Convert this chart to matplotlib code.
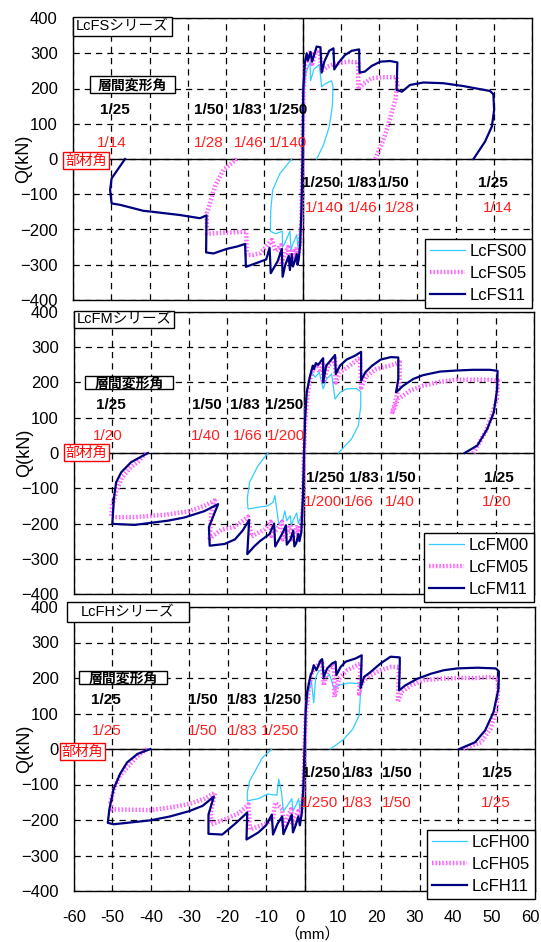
import matplotlib
matplotlib.use('Agg')
import matplotlib.pyplot as plt
import matplotlib.patheffects as pe
import matplotlib.transforms as mtransforms
from matplotlib.patches import Rectangle

plt.rcParams['font.family'] = ['Liberation Sans', 'Noto Sans CJK JP', 'DejaVu Sans']

# axis ticks
xticks = list(range(-60, 61, 10))
yticks = list(range(-400, 401, 100))

# ---- LcFS series : (deformation mm, Q kN), from origin outwards ----
fs00_pos = [(0, 0), (0.3, 180), (0.8, 240), (1.5, 262), (2.0, 275), (2.1, 222), (3.0, 255), (4.4, 268),
            (5.0, 205), (6.0, 214), (7.6, 222), (8.0, 205), (7.8, 150), (7.0, 92), (5.5, 40), (3.7, 0)]
fs00_neg = [(0, 0), (-0.3, -160), (-0.8, -222), (-1.2, -250), (-1.5, -215), (-2.5, -240), (-3.0, -258),
            (-3.3, -205), (-4.5, -236), (-5.2, -250), (-5.3, -205), (-7.0, -212), (-8.4, -205),
            (-8.3, -145), (-7.8, -88), (-5.9, -41), (-2.8, 0)]
fs05_pos = [(0, 0), (0.3, 200), (0.8, 268), (1.5, 290), (2.1, 306), (2.5, 270), (3.3, 298), (4.0, 310),
            (4.6, 295), (5.0, 250), (6.5, 262), (8.0, 268), (10.0, 273), (12.0, 276), (14.6, 274),
            (14.6, 198), (16.0, 214), (18.0, 229), (21.0, 232), (24.6, 232), (24.8, 210), (24.3, 170),
            (22.5, 100), (21.0, 50), (19.0, 0)]
fs05_neg = [(0, 0), (-0.3, -180), (-0.7, -248), (-1.2, -275), (-1.5, -250), (-2.2, -285), (-2.6, -255),
            (-3.5, -290), (-3.8, -250), (-5.0, -280), (-5.5, -300), (-5.7, -245), (-7.0, -262),
            (-8.0, -230), (-11.0, -267), (-12.9, -272), (-14.6, -272), (-14.7, -206), (-18.0, -208),
            (-22.0, -210), (-25.0, -212), (-25.0, -154), (-24.2, -126), (-22.9, -78), (-20.7, -31),
            (-17.2, 0)]
fs11_pos = [(0, 0), (0.2, 196), (0.65, 276), (1.1, 300), (1.4, 279), (2.1, 304), (2.5, 276), (3.7, 319),
            (4.7, 317), (5.0, 245), (5.7, 276), (7.0, 307), (8.1, 314), (8.3, 254), (9.4, 273),
            (11.1, 295), (12.9, 307), (14.8, 311), (14.9, 245), (16.3, 248), (18.1, 264), (20.3, 276),
            (22.9, 278), (24.8, 274), (24.6, 196), (26.0, 191), (28.1, 210), (31.6, 217), (36.8, 215),
            (42.0, 207), (45.5, 200), (49.0, 193), (49.9, 184), (50.1, 139), (49.5, 92), (47.7, 49),
            (44.7, 0)]
fs11_neg = [(0, 0), (-0.3, -150), (-0.6, -240), (-1.0, -285), (-1.3, -300), (-1.5, -270), (-2.0, -290),
            (-2.5, -305), (-2.8, -270), (-3.3, -315), (-3.6, -275), (-4.5, -300), (-5.2, -334),
            (-5.4, -255), (-6.5, -290), (-8.3, -324), (-8.6, -252), (-9.5, -285), (-12.0, -295),
            (-14.8, -306), (-15.0, -241), (-17.0, -248), (-19.8, -255), (-23.3, -268), (-25.2, -265),
            (-25.1, -160), (-26.8, -168), (-32.0, -159), (-39.8, -149), (-41.6, -147), (-47.7, -130),
            (-49.9, -126), (-50.3, -88), (-49.9, -55), (-48.0, -25), (-46.4, 0)]

# ---- LcFM series ----
fm00_pos = [(0, 0), (0.4, 134), (1.1, 200), (2.0, 229), (2.9, 215), (4.0, 229), (5.0, 182), (5.9, 210),
            (7.2, 224), (8.1, 153), (9.4, 172), (11.1, 182), (13.7, 183), (14.8, 174), (14.8, 134),
            (14.2, 78), (12.4, 40), (9.0, 0)]
fm00_neg = [(0, 0), (-0.3, -120), (-0.8, -180), (-1.5, -200), (-1.9, -170), (-2.8, -190), (-3.3, -205),
            (-3.6, -178), (-4.5, -192), (-5.0, -164), (-5.5, -188), (-6.6, -200), (-7.6, -121),
            (-8.1, -140), (-9.5, -150), (-12.0, -154), (-14.6, -159), (-14.8, -130), (-14.2, -83),
            (-12.0, -36), (-9.4, 0)]
fm05_pos = [(0, 0), (0.3, 86), (0.9, 162), (1.6, 210), (2.4, 238), (3.3, 243), (4.2, 229), (5.0, 257),
            (5.0, 200), (6.3, 248), (8.1, 267), (8.3, 200), (9.4, 229), (12.0, 248), (14.6, 271),
            (14.9, 186), (16.3, 219), (18.9, 238), (22.4, 248), (25.0, 257), (24.9, 191), (22.9, 111),
            (24.6, 153), (27.7, 177), (31.1, 191), (35.5, 202), (39.8, 208), (48.5, 208), (50.6, 205),
            (50.3, 153), (48.8, 100), (47.3, 59), (44.2, 0)]
fm05_neg = [(0, 0), (-0.3, -150), (-0.8, -215), (-1.5, -235), (-1.7, -205), (-2.5, -230), (-3.3, -245),
            (-3.5, -205), (-4.5, -225), (-5.5, -245), (-5.7, -195), (-7.0, -215), (-8.5, -235),
            (-8.7, -195), (-10.2, -216), (-13.7, -237), (-14.6, -181), (-18.1, -209), (-21.6, -218),
            (-24.6, -242), (-24.2, -170), (-23.3, -135), (-26.0, -150), (-30.0, -165), (-36.0, -175),
            (-44.2, -182), (-50.3, -182), (-50.0, -150), (-49.0, -110), (-47.5, -70), (-45.1, -40),
            (-43.3, -25), (-41.3, 0)]
fm11_pos = [(0, 0), (0.3, 96), (0.7, 172), (1.6, 219), (2.3, 248), (2.6, 238), (3.1, 255), (3.7, 250),
            (5.0, 269), (5.0, 200), (5.8, 248), (6.9, 262), (8.1, 278), (8.3, 224), (9.4, 248),
            (11.1, 265), (13.3, 276), (14.9, 287), (14.9, 205), (16.0, 229), (17.8, 248), (20.0, 265),
            (22.6, 272), (24.6, 271), (24.6, 210), (24.0, 172), (25.9, 191), (28.5, 210), (31.1, 221),
            (35.5, 231), (39.8, 234), (44.1, 236), (48.5, 236), (50.5, 233), (50.4, 182), (49.5, 115),
            (47.8, 68), (45.2, 21), (41.9, 0)]
fm11_neg = [(0, 0), (-0.3, -130), (-0.7, -225), (-1.2, -250), (-1.5, -230), (-2.0, -255), (-2.5, -265),
            (-2.8, -220), (-3.5, -245), (-4.5, -260), (-4.7, -205), (-5.5, -225), (-7.5, -265),
            (-7.8, -200), (-9.0, -230), (-11.5, -250), (-13.0, -265), (-14.8, -287), (-14.3, -190),
            (-16.0, -220), (-18.0, -245), (-20.7, -258), (-24.6, -263), (-24.8, -210), (-22.4, -145),
            (-26.0, -165), (-31.2, -183), (-35.5, -192), (-44.2, -204), (-50.0, -201), (-49.6, -130),
            (-49.0, -83), (-47.7, -55), (-45.1, -26), (-40.7, 0)]

# ---- LcFH series ----
fh00_pos = [(0, 0), (0.4, 110), (1.0, 160), (1.8, 190), (2.4, 130), (2.9, 200), (3.7, 220), (4.6, 222),
            (5.5, 200), (6.5, 210), (7.7, 170), (9.0, 180), (11.5, 186), (14.2, 184), (14.6, 160),
            (14.2, 94), (12.5, 55), (10.0, 25), (6.7, 0)]
fh00_neg = [(0, 0), (-0.3, -100), (-0.8, -150), (-1.2, -170), (-1.5, -140), (-2.3, -160), (-3.0, -175),
            (-3.3, -140), (-4.5, -160), (-5.5, -175), (-6.0, -120), (-6.7, -85), (-7.2, -130),
            (-9.7, -127), (-12.0, -140), (-14.9, -146), (-14.9, -123), (-14.3, -90), (-12.5, -55),
            (-11.0, -25), (-8.5, 0)]
fh05_pos = [(0, 0), (0.4, 104), (1.1, 170), (2.0, 217), (2.9, 229), (4.2, 246), (4.6, 241), (5.0, 179),
            (5.9, 217), (7.2, 236), (7.7, 231), (7.8, 146), (9.0, 198), (11.1, 222), (13.7, 236),
            (14.6, 241), (14.2, 156), (15.0, 189), (17.2, 208), (19.8, 222), (22.4, 231), (24.6, 231),
            (24.3, 132), (25.3, 161), (27.7, 179), (31.1, 194), (35.5, 198), (39.8, 200), (45.0, 200),
            (48.5, 203), (50.3, 198), (50.4, 161), (49.8, 104), (48.4, 57), (46.0, 19), (41.1, 0)]
fh05_neg = [(0, 0), (-0.3, -120), (-0.8, -175), (-1.3, -200), (-1.6, -175), (-2.5, -195), (-3.2, -215),
            (-3.5, -170), (-4.5, -195), (-5.5, -215), (-5.8, -170), (-7.6, -151), (-8.3, -200),
            (-10.0, -210), (-12.0, -218), (-14.2, -227), (-14.6, -156), (-17.0, -180), (-20.0, -195),
            (-24.2, -212), (-24.4, -180), (-23.3, -123), (-26.0, -140), (-30.0, -155), (-35.0, -165),
            (-40.1, -172), (-50.1, -170), (-50.5, -150), (-49.5, -110), (-48.0, -75), (-46.0, -50),
            (-43.5, -20), (-41.0, 0)]
fh11_pos = [(0, 0), (0.3, 104), (0.7, 161), (1.6, 208), (2.0, 217), (2.4, 236), (3.1, 222), (4.2, 250),
            (4.6, 253), (5.0, 203), (5.9, 227), (7.2, 241), (8.1, 246), (8.3, 208), (9.4, 231),
            (10.7, 246), (13.3, 255), (14.9, 264), (14.6, 172), (15.5, 203), (17.2, 217), (19.8, 241),
            (22.4, 260), (24.8, 258), (24.8, 241), (24.6, 165), (26.2, 179), (29.4, 198), (32.9, 212),
            (36.3, 222), (39.8, 227), (45.0, 229), (49.8, 227), (50.6, 219), (50.5, 170), (49.2, 104),
            (47.0, 52), (44.4, 19), (40.3, 0)]
fh11_neg = [(0, 0), (-0.3, -110), (-0.7, -180), (-1.2, -215), (-1.6, -190), (-2.3, -215), (-3.0, -235),
            (-3.3, -185), (-4.3, -210), (-5.5, -240), (-5.8, -190), (-7.0, -210), (-8.2, -241),
            (-8.5, -185), (-10.0, -215), (-12.0, -235), (-15.1, -255), (-14.9, -179), (-18.0, -210),
            (-21.4, -241), (-25.0, -239), (-25.0, -185), (-23.6, -134), (-26.5, -160), (-30.0, -175),
            (-35.0, -190), (-40.1, -201), (-49.7, -212), (-51.2, -208), (-50.8, -170), (-49.7, -113),
            (-48.0, -70), (-46.2, -38), (-43.5, -14), (-40.1, 0)]

# ---- labels ----
fs_names = ['LcFS00', 'LcFS05', 'LcFS11']
fm_names = ['LcFM00', 'LcFM05', 'LcFM11']
fh_names = ['LcFH00', 'LcFH05', 'LcFH11']
titles = ['LcFSシリーズ', 'LcFMシリーズ', 'LcFHシリーズ']

story_top = ['1/25', '1/50', '1/83', '1/250']
story_bot = ['1/250', '1/83', '1/50', '1/25']
fs_member_top = ['1/14', '1/28', '1/46', '1/140']
fs_member_bot = ['1/140', '1/46', '1/28', '1/14']
fm_member_top = ['1/20', '1/40', '1/66', '1/200']
fm_member_bot = ['1/200', '1/66', '1/40', '1/20']
fh_member_top = ['1/25', '1/50', '1/83', '1/250']
fh_member_bot = ['1/250', '1/83', '1/50', '1/25']

# label positions (x in mm) for each panel
fs_xpos = [[-49, -24.6, -14.5, -3.8], [-50, -24.6, -14, -3.8], [4.9, 15.6, 24, 49.8], [5.7, 15.7, 25.5, 51]]
fm_xpos = [[-50.3, -25.3, -15.5, -5.1], [-51.2, -25.5, -14.8, -4.8], [5.4, 15.5, 25.4, 50.8], [5, 14.2, 24.9, 50.3]]
fh_xpos = [[-51.6, -26.4, -16.2, -5.9], [-51.6, -26.4, -16.2, -6.3], [4.2, 13.8, 24.1, 50.1], [3.8, 13.9, 24.1, 49.9]]
row_y = [[139, 45, -68, -139], [136, 49, -71, -138], [137, 52, -68, -151]]

W, H = 541, 942
fig = plt.figure(figsize=(W / 100, H / 100), dpi=100)


def px_rect(l, r, t, b):
    return [l / W, 1 - b / H, (r - l) / W, (b - t) / H]


def px_box(l, r, t, b, ec='black'):
    fig.add_artist(Rectangle((l / W, 1 - b / H), (r - l) / W, (b - t) / H, transform=fig.transFigure,
                             facecolor='white', edgecolor=ec, linewidth=1.0, zorder=4))


def path(neg, pos):
    pts = neg[::-1] + pos[1:]
    return [p[0] for p in pts], [p[1] for p in pts]


axes_px = [(73, 532, 18, 300), (74, 534, 312, 594), (74, 535, 607, 891)]
title_px = [(73, 172, 17, 36), (74, 174, 311, 328), (67, 189, 602, 622)]
story_px = [(90, 175, 76, 93), (85, 173, 376, 389), (79, 167, 671, 684)]
member_px = [(63, 109, 152, 169), (64, 109, 444, 461), (60, 105, 743, 760)]

series = [
    [fs00_neg, fs00_pos, fs05_neg, fs05_pos, fs11_neg, fs11_pos],
    [fm00_neg, fm00_pos, fm05_neg, fm05_pos, fm11_neg, fm11_pos],
    [fh00_neg, fh00_pos, fh05_neg, fh05_pos, fh11_neg, fh11_pos],
]
names = [fs_names, fm_names, fh_names]
members = [(fs_member_top, fs_member_bot), (fm_member_top, fm_member_bot), (fh_member_top, fh_member_bot)]
xposes = [fs_xpos, fm_xpos, fh_xpos]

pink_fx = [pe.Stroke(linewidth=3.2, foreground='#ff55ff'), pe.Normal()]

for i in range(3):
    ax = fig.add_axes(px_rect(*axes_px[i]))
    s = series[i]
    x, q = path(s[0], s[1])
    ax.plot(x, q, color='#33ccff', lw=0.9, label=names[i][0], zorder=3)
    x, q = path(s[2], s[3])
    ax.plot(x, q, color='#ff8cff', lw=1.0, ls=(0, (1, 1.5)), path_effects=pink_fx, label=names[i][1], zorder=4)
    x, q = path(s[4], s[5])
    ax.plot(x, q, color='#000080', lw=1.6, label=names[i][2], zorder=5)

    ax.set_xlim(-60, 60)
    ax.set_ylim(-400, 400)
    ax.set_xticks(xticks)
    ax.set_yticks(yticks)
    ax.grid(True, color='black', lw=0.9, ls=(0, (5, 4)))
    ax.axhline(0, color='black', lw=1.0, zorder=2)
    ax.axvline(0, color='black', lw=1.0, zorder=2)
    for sp in ax.spines.values():
        sp.set_linewidth(1.0)
    ax.tick_params(axis='y', length=0, labelsize=12, pad=11)
    ax.tick_params(axis='x', length=0, labelbottom=False)
    ax.set_ylabel('Q(kN)', fontsize=13)
    ax.yaxis.set_label_coords(-0.089, 0.5)

    if i == 2:
        # x tick labels drawn by hand, positives sit a little left of their grid line
        base = mtransforms.blended_transform_factory(ax.transData, ax.transAxes)
        for xv in xticks:
            dx = -5 if xv >= 0 else 0
            tr = base + mtransforms.ScaledTranslation(dx / 100, -27 / 100, fig.dpi_scale_trans)
            ax.text(xv, 0, str(xv), transform=tr, ha='center', va='center', fontsize=12, clip_on=False)

    # drift angle labels
    xp = xposes[i]
    ry = row_y[i]
    for lab, xx in zip(story_top, xp[0]):
        ax.text(xx, ry[0], lab, ha='center', va='center', fontsize=11, fontweight='bold', zorder=6)
    for lab, xx in zip(members[i][0], xp[1]):
        ax.text(xx, ry[1], lab, ha='center', va='center', fontsize=11, color='#ff2020', zorder=6)
    for lab, xx in zip(story_bot, xp[2]):
        ax.text(xx, ry[2], lab, ha='center', va='center', fontsize=11, fontweight='bold', zorder=6)
    for lab, xx in zip(members[i][1], xp[3]):
        ax.text(xx, ry[3], lab, ha='center', va='center', fontsize=11, color='#ff2020', zorder=6)

    leg = ax.legend(loc='lower right', bbox_to_anchor=(1.0, -0.028), borderaxespad=0, fancybox=False,
                    edgecolor='black', framealpha=1, fontsize=12, handlelength=2.1, handletextpad=0.3,
                    labelspacing=0.42, borderpad=0.3)
    leg.get_frame().set_linewidth(1.0)
    leg.set_zorder(10)

    # boxes: series title, 層間変形角, 部材角
    l, r, t, b = title_px[i]
    px_box(l, r, t, b)
    fig.text((l + r) / 2 / W, 1 - (t + b) / 2 / H, titles[i], ha='center', va='center', fontsize=10.5, zorder=5)
    l, r, t, b = story_px[i]
    px_box(l, r, t, b)
    fig.text((l + r) / 2 / W, 1 - ((t + b) / 2 + 1) / H, '層間変形角', ha='center', va='center', fontsize=10,
             fontweight='bold', zorder=5)
    l, r, t, b = member_px[i]
    px_box(l, r, t, b, ec='red')
    fig.text((l + r) / 2 / W, 1 - (t + b) / 2 / H, '部材角', ha='center', va='center', fontsize=10,
             color='red', zorder=5)

fig.text(312 / W, 1 - 934 / H, '（mm）', ha='center', va='center', fontsize=11)

fig.savefig('out.png', dpi=100)
